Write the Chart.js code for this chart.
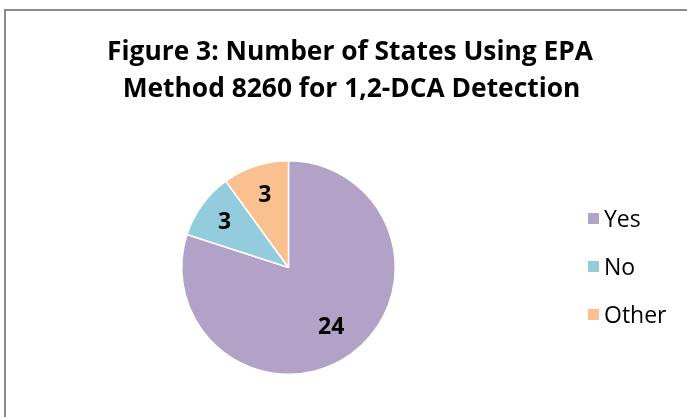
<!DOCTYPE html>
<html>
<head>
<meta charset="utf-8">
<script src="https://cdn.jsdelivr.net/npm/chart.js@4/dist/chart.umd.min.js"></script>
<style>
  html, body { margin: 0; padding: 0; background: #fff; }
  #wrap { position: relative; width: 687px; height: 417px; }
</style>
</head>
<body>
<div id="wrap"><canvas id="c" width="687" height="417"></canvas></div>
<script>
const titleLines = ['Figure 3: Number of States Using EPA', 'Method 8260 for 1,2-DCA Detection'];
const categories = ['Yes', 'No', 'Other'];
const stateCounts = [24, 3, 3];
const sliceColors = ['#B3A2C7', '#93CDDD', '#FAC090'];

const FONT = '"Open Sans", Lato, "DejaVu Sans", sans-serif';
// radial placement of each value label, as a share of the pie radius
const labelRadius = [0.68, 0.74, 0.72];

// Frame, title, value labels and legend drawn on the canvas
const decorations = {
  id: 'decorations',
  beforeDraw(chart) {
    const ctx = chart.ctx;
    ctx.save();
    ctx.strokeStyle = '#8a8a8a';
    ctx.lineWidth = 2;
    ctx.beginPath();
    ctx.moveTo(5, 417);
    ctx.lineTo(5, 10);
    ctx.lineTo(687, 10);
    ctx.stroke();
    ctx.restore();
  },
  afterDraw(chart) {
    const ctx = chart.ctx;
    ctx.save();
    // title, scaled horizontally to its set width
    ctx.fillStyle = '#000';
    ctx.textAlign = 'center';
    ctx.textBaseline = 'alphabetic';
    ctx.font = 'bold 26px ' + FONT;
    const squeeze = 486 / ctx.measureText(titleLines[0]).width;
    [[titleLines[0], 350, 60], [titleLines[1], 351.5, 96.5]].forEach(([t, cx, by]) => {
      ctx.save();
      ctx.translate(cx, by);
      ctx.scale(squeeze, 1);
      ctx.fillText(t, 0, 0);
      ctx.restore();
    });

    // value labels inside slices
    const meta = chart.getDatasetMeta(0);
    ctx.font = 'bold 23px ' + FONT;
    meta.data.forEach((arc, i) => {
      const mid = (arc.startAngle + arc.endAngle) / 2;
      const r = arc.outerRadius * labelRadius[i];
      const x = arc.x + Math.cos(mid) * r;
      const y = arc.y + Math.sin(mid) * r;
      ctx.fillText(String(stateCounts[i]), x, y + 8);
    });

    // legend
    ctx.font = '23px ' + FONT;
    ctx.textAlign = 'left';
    categories.forEach((name, i) => {
      const cy = 218.5 + i * 48;
      ctx.fillStyle = sliceColors[i];
      ctx.fillRect(588, cy - 5.5, 11, 11);
      ctx.fillStyle = '#000';
      ctx.fillText(name, 604, cy + 8.5);
    });
    ctx.restore();
  }
};

new Chart(document.getElementById('c'), {
  type: 'pie',
  data: {
    labels: categories,
    datasets: [{
      data: stateCounts,
      backgroundColor: sliceColors,
      borderColor: '#ffffff',
      borderWidth: 1.5
    }]
  },
  options: {
    responsive: false,
    animation: false,
    layout: { padding: { left: 181, right: 291, top: 160, bottom: 42 } },
    plugins: {
      legend: { display: false },
      title: { display: false },
      tooltip: { enabled: false }
    }
  },
  plugins: [decorations]
});
</script>
</body>
</html>
